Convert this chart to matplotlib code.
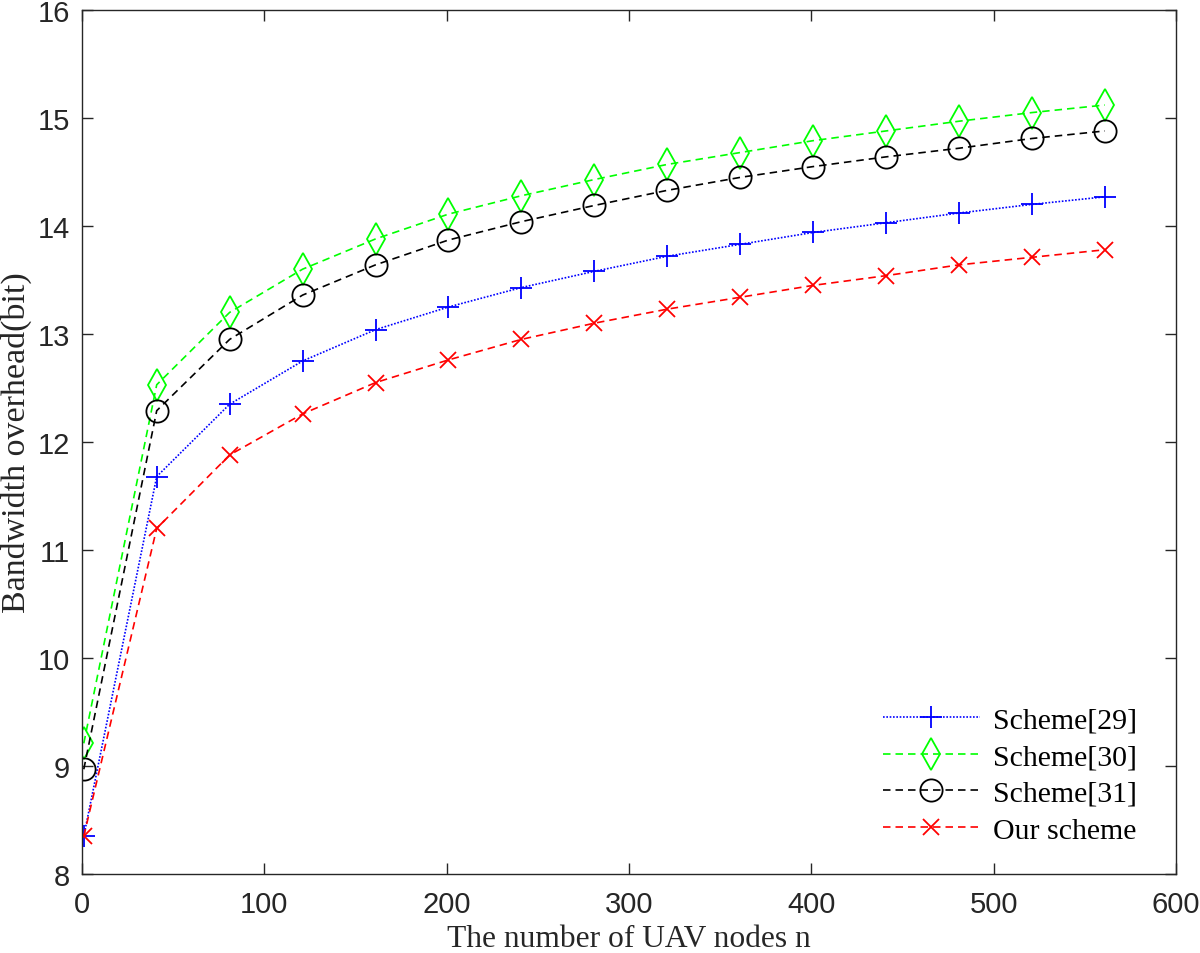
import matplotlib
matplotlib.use("Agg")
import matplotlib.pyplot as plt

# ---- data ----
nodes = [1, 41, 81, 121, 161, 201, 241, 281, 321, 361, 401, 441, 481, 521, 561]
scheme29 = [8.35, 11.68, 12.35, 12.75, 13.04, 13.25, 13.43, 13.58, 13.72, 13.83, 13.94, 14.03, 14.12, 14.20, 14.27]
scheme30 = [9.21, 12.53, 13.20, 13.60, 13.88, 14.11, 14.28, 14.43, 14.57, 14.68, 14.79, 14.88, 14.97, 15.05, 15.12]
scheme31 = [8.97, 12.29, 12.95, 13.36, 13.64, 13.87, 14.04, 14.19, 14.33, 14.45, 14.55, 14.64, 14.72, 14.81, 14.88]
ours     = [8.35, 11.20, 11.88, 12.26, 12.55, 12.76, 12.95, 13.10, 13.23, 13.34, 13.45, 13.54, 13.64, 13.71, 13.78]
labels = ["Scheme[29]", "Scheme[30]", "Scheme[31]", "Our scheme"]
xticks = [0, 100, 200, 300, 400, 500, 600]
yticks = [8, 9, 10, 11, 12, 13, 14, 15, 16]

fig = plt.figure(figsize=(12, 9.54), dpi=100)
ax = fig.add_axes([0.0683, 0.0828, 0.9117, 0.9057])

lw = 1.2
ax.plot(nodes, scheme29, color="#0000FF", linestyle=(0, (1, 1)), linewidth=lw,
        marker="+", markersize=16, markeredgewidth=1.3, label=labels[0])
ax.plot(nodes, scheme30, color="#00FF00", linestyle=(0, (4.5, 3)), linewidth=lw,
        marker="d", markersize=16, markeredgewidth=1.3, markerfacecolor="none", label=labels[1])
ax.plot(nodes, scheme31, color="#000000", linestyle=(0, (4.5, 3)), linewidth=lw,
        marker="o", markersize=16, markeredgewidth=1.3, markerfacecolor="none", label=labels[2])
ax.plot(nodes, ours, color="#FF0000", linestyle=(0, (4.5, 3)), linewidth=lw,
        marker="x", markersize=11, markeredgewidth=1.3, label=labels[3])

ax.set_xlim(0, 600)
ax.set_ylim(8, 16)
ax.set_xticks(xticks)
ax.set_yticks(yticks)

edge = "#262626"
for sp in ax.spines.values():
    sp.set_color(edge)
    sp.set_linewidth(1.0)

ax.tick_params(axis="both", which="major", direction="in", length=8, width=1.0,
               color=edge, top=True, right=True, labelcolor="#262626")
ax.tick_params(axis="x", pad=11.5)
ax.tick_params(axis="y", pad=8.5)
for t in ax.get_xticklabels() + ax.get_yticklabels():
    t.set_fontfamily("Liberation Sans")
    t.set_fontsize(21)

ax.set_xlabel("The number of UAV nodes n", fontfamily="Liberation Serif", fontsize=22.7, color="#262626")
ax.set_ylabel("Bandwidth overhead(bit)", fontfamily="Liberation Serif", fontsize=24.5, color="#262626")
ax.xaxis.set_label_coords(0.5, -0.058)
ax.yaxis.set_label_coords(-0.0457, 0.5)
ax.xaxis.label.set_va("top")

leg = ax.legend(loc="upper left", bbox_to_anchor=(0.732, 0.1935), frameon=False,
                prop={"family": "Liberation Serif", "size": 21.5},
                handlelength=3.25, handletextpad=0.44, labelspacing=0.325,
                borderpad=0, borderaxespad=0)
for txt in leg.get_texts():
    txt.set_color("#000000")

fig.savefig("out.png", dpi=100)
